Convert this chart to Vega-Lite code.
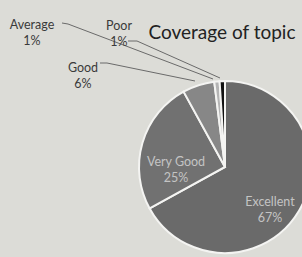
{
  "$schema": "https://vega.github.io/schema/vega-lite/v6.json",
  "autosize": {"type": "none"},
  "width": 150,
  "height": 180,
  "padding": {"left": 150, "top": 77, "right": 2, "bottom": 0},
  "background": "#dcdcd7",
  "config": {"view": {"stroke": null}, "font": "Lato"},
  "layer": [
    {
      "data": {"values": [
        {"rating": "Excellent", "pct": 67, "rank": 1},
        {"rating": "Very Good", "pct": 25, "rank": 2},
        {"rating": "Good", "pct": 6, "rank": 3},
        {"rating": "Average", "pct": 1, "rank": 4},
        {"rating": "Poor", "pct": 1, "rank": 5}
      ]},
      "mark": {"type": "arc", "outerRadius": 86, "stroke": "#f4f4f2", "strokeWidth": 2},
      "encoding": {
        "theta": {"field": "pct", "type": "quantitative", "stack": true},
        "order": {"field": "rank", "type": "quantitative"},
        "color": {"field": "rating", "type": "nominal", "legend": null,
          "scale": {"domain": ["Excellent", "Very Good", "Good", "Average", "Poor"], "range": ["#6a6a6a", "#717171", "#878787", "#b4b4b4", "#111111"]}}
      }
    },
    {
      "data": {"values": [
        {"rating": "Average", "step": 1, "x": -163, "y": 144},
        {"rating": "Average", "step": 2, "x": -157, "y": 143},
        {"rating": "Average", "step": 3, "x": -12, "y": 88},
        {"rating": "Poor", "step": 1, "x": -97, "y": 126},
        {"rating": "Poor", "step": 2, "x": -88, "y": 126},
        {"rating": "Poor", "step": 3, "x": -5, "y": 89},
        {"rating": "Good", "step": 1, "x": -125, "y": 104},
        {"rating": "Good", "step": 2, "x": -118, "y": 104},
        {"rating": "Good", "step": 3, "x": -30, "y": 86}
      ]},
      "mark": {"type": "line", "color": "#6a6a6a", "strokeWidth": 1},
      "encoding": {
        "x": {"field": "x", "type": "quantitative", "scale": {"domain": [-75, 75], "nice": false, "zero": false}, "axis": null},
        "y": {"field": "y", "type": "quantitative", "scale": {"domain": [-90, 90], "nice": false, "zero": false}, "axis": null},
        "detail": {"field": "rating", "type": "nominal"},
        "order": {"field": "step", "type": "quantitative"}
      }
    },
    {
      "data": {"values": [
        {"label": "Average\n1%", "x": -193, "y": 142, "inside": false},
        {"label": "Poor\n1%", "x": -106, "y": 141, "inside": false},
        {"label": "Good\n6%", "x": -142, "y": 99, "inside": false},
        {"label": "Very Good\n25%", "x": -49, "y": 5, "inside": true},
        {"label": "Excellent\n67%", "x": 45, "y": -35, "inside": true}
      ]},
      "mark": {"type": "text", "lineBreak": "\n", "fontSize": 12.5, "align": "center", "baseline": "middle", "lineHeight": 16},
      "encoding": {
        "x": {"field": "x", "type": "quantitative", "axis": null},
        "y": {"field": "y", "type": "quantitative", "axis": null},
        "text": {"field": "label", "type": "nominal"},
        "color": {"condition": {"test": "datum.inside", "value": "#c4c4c4"}, "value": "#3a3a3a"}
      }
    },
    {
      "data": {"values": [
        {"label": "Coverage of topic", "x": -3, "y": 134}
      ]},
      "mark": {"type": "text", "fontSize": 19, "align": "center", "baseline": "middle", "color": "#222222"},
      "encoding": {
        "x": {"field": "x", "type": "quantitative", "axis": null},
        "y": {"field": "y", "type": "quantitative", "axis": null},
        "text": {"field": "label", "type": "nominal"}
      }
    }
  ]
}
